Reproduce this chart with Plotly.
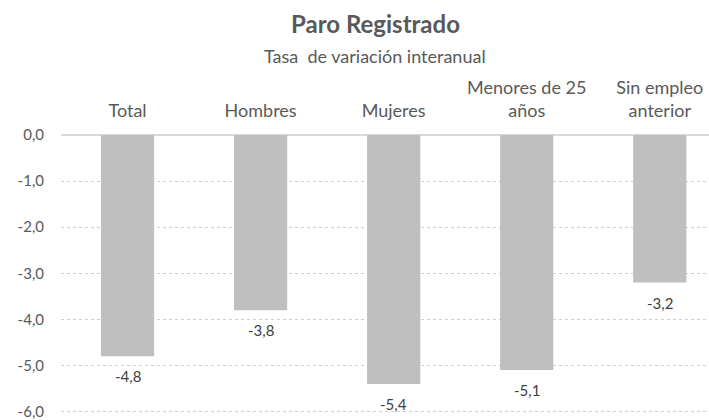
import plotly.graph_objects as go

categorias = ["Total", "Hombres", "Mujeres", "Menores de 25<br>años", "Sin empleo<br>anterior"]
tasas = [-4.8, -3.8, -5.4, -5.1, -3.2]
etiquetas = ["-4,8", "-3,8", "-5,4", "-5,1", "-3,2"]
ticks_y = [0, -1, -2, -3, -4, -5, -6]
ticks_y_txt = ["0,0", "-1,0", "-2,0", "-3,0", "-4,0", "-5,0", "-6,0"]

gris_txt = "#595959"
fuente = "Lato"

fig = go.Figure()
fig.add_trace(go.Bar(
    x=list(range(len(categorias))),
    y=tasas,
    marker=dict(color="#bfbfbf", line=dict(width=0)),
    width=0.40,
))

# etiquetas de datos debajo de cada barra
for i, (v, t) in enumerate(zip(tasas, etiquetas)):
    fig.add_annotation(
        x=i, y=v, text=t, showarrow=False,
        yanchor="top", yshift=-9,
        font=dict(family=fuente, size=15, color="#404040"),
    )

fig.update_layout(
    width=709, height=420,
    margin=dict(l=61, r=0, t=135, b=7),
    plot_bgcolor="white", paper_bgcolor="white",
    showlegend=False,
    font=dict(family=fuente, color=gris_txt, size=15),
)
fig.update_xaxes(
    side="top",
    range=[-0.5, 4.37],
    tickmode="array",
    tickvals=list(range(len(categorias))),
    ticktext=categorias,
    tickfont=dict(family=fuente, size=18, color=gris_txt),
    showgrid=False, zeroline=False, showline=False,
    ticks="", ticklabelstandoff=13, automargin=False,
    ticklabeloverflow="allow",
)
fig.update_yaxes(
    range=[-6.03, 0],
    tickvals=ticks_y,
    ticktext=ticks_y_txt,
    tickfont=dict(family=fuente, size=15, color=gris_txt),
    showgrid=True, gridcolor="#d0d0d0", griddash="dot", gridwidth=1,
    zeroline=True, zerolinecolor="#d9d9d9", zerolinewidth=2,
    showline=False, ticks="", ticklabelstandoff=16, automargin=False,
    ticklabeloverflow="allow",
)

fig.add_annotation(
    text="<b>Paro Registrado</b>", xref="paper", yref="paper",
    x=0.4846, y=1.40, xanchor="center", yanchor="middle", showarrow=False,
    font=dict(family=fuente, size=24, color=gris_txt),
)
fig.add_annotation(
    text="Tasa  de variación interanual", xref="paper", yref="paper",
    x=0.4846, y=1.283, xanchor="center", yanchor="middle", showarrow=False,
    font=dict(family=fuente, size=18, color=gris_txt),
)

# sin margen en el body para que la figura ocupe toda la ventana
fig.write_html(
    "out.html",
    config={"displayModeBar": False},
    post_script="document.body.style.margin='0';document.body.style.overflow='hidden';",
)
